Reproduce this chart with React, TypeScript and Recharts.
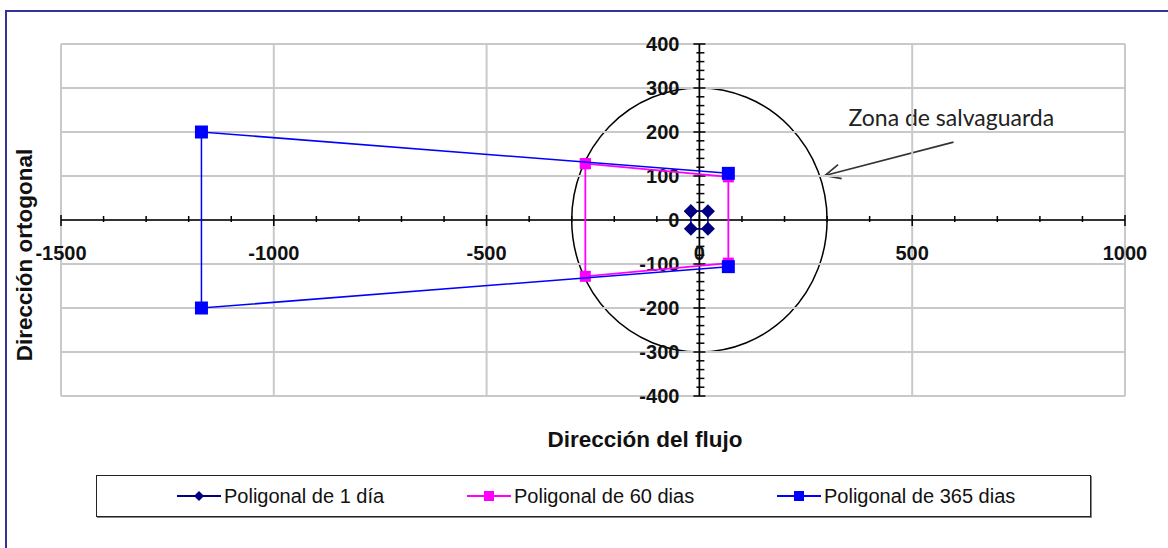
import React from "react";
import {
  ScatterChart,
  Scatter,
  XAxis,
  YAxis,
  ReferenceLine,
  ReferenceDot,
  ReferenceArea,
} from "recharts";

// ---- data ----
const poligonal1Dia = [
  { x: -20, y: 20 },
  { x: 20, y: 20 },
  { x: 20, y: -20 },
  { x: -20, y: -20 },
  { x: -20, y: 20 },
];
const poligonal60Dias = [
  { x: -268, y: 128 },
  { x: 68, y: 98 },
  { x: 68, y: -98 },
  { x: -268, y: -128 },
  { x: -268, y: 128 },
];
const poligonal365Dias = [
  { x: 68, y: 106 },
  { x: -1170, y: 200 },
  { x: -1170, y: -200 },
  { x: 68, y: -106 },
];
const zonaRadio = 300;
const flechaInicio = { x: 597, y: 177 };
const flechaPunta = { x: 295, y: 101 };
const zonaTexto = "Zona de salvaguarda";

const xTickLabels = [-1500, -1000, -500, 0, 500, 1000];
const yTickLabels = [-400, -300, -200, -100, 0, 100, 200, 300, 400];
const xMinorTicks = [
  -1500, -1400, -1300, -1200, -1100, -1000, -900, -800, -700, -600, -500,
  -400, -300, -200, -100, 0, 100, 200, 300, 400, 500, 600, 700, 800, 900, 1000,
];
const yMinorTicks = [
  -400, -380, -360, -340, -320, -300, -280, -260, -240, -220, -200, -180,
  -160, -140, -120, -100, -80, -60, -40, -20, 0, 20, 40, 60, 80, 100, 120,
  140, 160, 180, 200, 220, 240, 260, 280, 300, 320, 340, 360, 380, 400,
];
const seriesNames = [
  "Poligonal de 1 día",
  "Poligonal de 60 dias",
  "Poligonal de 365 dias",
];
const xTitle = "Dirección del flujo";
const yTitle = "Dirección ortogonal";

// ---- styles ----
const NAVY = "#000080";
const MAGENTA = "#FF00FF";
const BLUE = "#0000FF";
const GRID = "#c9c9c9";
const TICK_FONT = "'Liberation Sans', Arial, sans-serif";

const diamond = (color: string, r: number) => (p: any) => {
  const { cx, cy } = p;
  if (cx == null || cy == null) return <g />;
  return (
    <polygon
      points={`${cx},${cy - r} ${cx + r},${cy} ${cx},${cy + r} ${cx - r},${cy}`}
      fill={color}
    />
  );
};
const square = (color: string, s: number) => (p: any) => {
  const { cx, cy } = p;
  if (cx == null || cy == null) return <g />;
  return <rect x={cx - s / 2} y={cy - s / 2} width={s} height={s} fill={color} />;
};

const Ellipse = (p: any) => {
  const { x, y, width, height } = p;
  return (
    <ellipse
      cx={x + width / 2}
      cy={y + height / 2}
      rx={Math.abs(width) / 2}
      ry={Math.abs(height) / 2}
      fill="none"
      stroke="#000"
      strokeWidth={1.5}
    />
  );
};

const Arrow = (p: any) => {
  const { x, y, width, height } = p;
  const sx = x + width;
  const sy = y;
  const tx = x;
  const ty = y + height;
  const ang = Math.atan2(sy - ty, sx - tx);
  const L = 17;
  const a = (25 * Math.PI) / 180;
  const h1x = tx + L * Math.cos(ang + a);
  const h1y = ty + L * Math.sin(ang + a);
  const h2x = tx + L * Math.cos(ang - a);
  const h2y = ty + L * Math.sin(ang - a);
  return (
    <g>
      <line x1={sx} y1={sy} x2={tx} y2={ty} stroke="#333" strokeWidth={1.6} />
      <polyline
        points={`${h1x},${h1y} ${tx},${ty} ${h2x},${h2y}`}
        fill="none"
        stroke="#333"
        strokeWidth={1.6}
      />
      <text
        x={sx - 105}
        y={sy - 16}
        fontFamily="Lato, 'Open Sans', sans-serif"
        fontSize={23}
        fill="#222"
      >
        {zonaTexto}
      </text>
    </g>
  );
};

const xTickMark = (major: boolean) => (p: any) => {
  const { cx, cy } = p;
  const up = major ? 5 : 4;
  const down = major ? 6 : 2;
  return <line x1={cx} x2={cx} y1={cy - up} y2={cy + down} stroke="#000" strokeWidth={1.5} />;
};
const yTickMark = (major: boolean) => (p: any) => {
  const { cx, cy } = p;
  const l = major ? 6 : 3;
  const r = major ? 6 : 5;
  return <line x1={cx - l} x2={cx + r} y1={cy} y2={cy} stroke="#000" strokeWidth={1.5} />;
};
const xTickText = (v: number) => (p: any) => {
  const { cx, cy } = p;
  return (
    <text x={cx} y={cy + 40} textAnchor="middle" fontFamily={TICK_FONT} fontWeight="bold" fontSize={20} fill="#111">
      {v}
    </text>
  );
};
const yTickText = (v: number) => (p: any) => {
  const { cx, cy } = p;
  return (
    <text x={cx - 20} y={cy + 7} textAnchor="end" fontFamily={TICK_FONT} fontWeight="bold" fontSize={20} fill="#111">
      {v}
    </text>
  );
};

const LegendIcon = ({ color, kind }: { color: string; kind: string }) => (
  <svg width={44} height={14} style={{ display: "block" }}>
    <line x1={0} x2={44} y1={7} y2={7} stroke={color} strokeWidth={1.8} />
    {kind === "diamond" ? (
      <polygon points="22,2 27,7 22,12 17,7" fill={color} />
    ) : (
      <rect x={17} y={2} width={10} height={10} fill={color} />
    )}
  </svg>
);

const legendItems = [
  { name: seriesNames[0], color: NAVY, kind: "diamond", left: 177 },
  { name: seriesNames[1], color: MAGENTA, kind: "square", left: 467 },
  { name: seriesNames[2], color: BLUE, kind: "square", left: 777 },
];

export default function App() {
  return (
    <div
      style={{
        position: "absolute",
        left: 0,
        top: 0,
        width: 1168,
        height: 548,
        background: "#fff",
        overflow: "hidden",
      }}
    >
      {/* outer frame */}
      <div
        style={{
          position: "absolute",
          left: 5,
          top: 10,
          width: 1200,
          height: 600,
          borderTop: "2px solid #333399",
          borderLeft: "2px solid #333399",
        }}
      />
      <div style={{ position: "absolute", left: 0, top: 0 }}>
        <ScatterChart
          width={1168}
          height={548}
          margin={{ top: 44, right: 43, bottom: 152, left: 61 }}
        >
          <XAxis
            type="number"
            dataKey="x"
            domain={[-1500, 1000]}
            ticks={xTickLabels}
            allowDataOverflow
            height={0}
            tick={false}
            axisLine={false}
            tickLine={false}
          />
          <YAxis
            type="number"
            dataKey="y"
            domain={[-400, 400]}
            ticks={yTickLabels}
            allowDataOverflow
            width={0}
            tick={false}
            axisLine={false}
            tickLine={false}
          />
          {xTickLabels.map((v) => (
            <ReferenceLine key={"gx" + v} x={v} stroke={GRID} strokeWidth={2} />
          ))}
          {yTickLabels.map((v) => (
            <ReferenceLine key={"gy" + v} y={v} stroke={GRID} strokeWidth={2} />
          ))}
          <ReferenceArea
            x1={-zonaRadio}
            x2={zonaRadio}
            y1={-zonaRadio}
            y2={zonaRadio}
            shape={Ellipse}
          />
          <ReferenceLine y={0} stroke="#000" strokeWidth={1.6} />
          <ReferenceLine x={0} stroke="#000" strokeWidth={1.6} />
          {xMinorTicks.map((v) => (
            <ReferenceDot key={"xt" + v} x={v} y={0} r={0} shape={xTickMark(v % 500 === 0)} />
          ))}
          {yMinorTicks.map((v) => (
            <ReferenceDot key={"yt" + v} x={0} y={v} r={0} shape={yTickMark(v % 100 === 0)} />
          ))}
          {xTickLabels.map((v) => (
            <ReferenceDot key={"xl" + v} x={v} y={0} r={0} shape={xTickText(v)} />
          ))}
          {yTickLabels.map((v) => (
            <ReferenceDot key={"yl" + v} x={0} y={v} r={0} shape={yTickText(v)} />
          ))}
          <ReferenceArea
            x1={flechaPunta.x}
            x2={flechaInicio.x}
            y1={flechaPunta.y}
            y2={flechaInicio.y}
            shape={Arrow}
          />
          <Scatter
            name={seriesNames[0]}
            data={poligonal1Dia}
            line={{ stroke: NAVY, strokeWidth: 1.5 }}
            lineType="joint"
            shape={diamond(NAVY, 7)}
            isAnimationActive={false}
          />
          <Scatter
            name={seriesNames[1]}
            data={poligonal60Dias}
            line={{ stroke: MAGENTA, strokeWidth: 1.8 }}
            lineType="joint"
            shape={square(MAGENTA, 11)}
            isAnimationActive={false}
          />
          <Scatter
            name={seriesNames[2]}
            data={poligonal365Dias}
            line={{ stroke: BLUE, strokeWidth: 1.5 }}
            lineType="joint"
            shape={square(BLUE, 13)}
            isAnimationActive={false}
          />
        </ScatterChart>
      </div>
      {/* axis titles */}
      <svg
        width={1168}
        height={548}
        style={{ position: "absolute", left: 0, top: 0, pointerEvents: "none" }}
      >
        <text
          x={645}
          y={447}
          textAnchor="middle"
          fontFamily={TICK_FONT}
          fontWeight="bold"
          fontSize={22.5}
          fill="#111"
        >
          {xTitle}
        </text>
        <text
          transform="translate(32,255) rotate(-90)"
          textAnchor="middle"
          fontFamily={TICK_FONT}
          fontWeight="bold"
          fontSize={22.5}
          fill="#111"
        >
          {yTitle}
        </text>
      </svg>
      {/* legend */}
      <div
        style={{
          position: "absolute",
          left: 96,
          top: 475,
          width: 993,
          height: 40,
          border: "1.5px solid #222",
          boxShadow: "1px 1px 0 #888",
          background: "#fff",
        }}
      />
      {legendItems.map((it) => (
        <div
          key={it.name}
          style={{
            position: "absolute",
            left: it.left,
            top: 483,
            height: 26,
            display: "flex",
            alignItems: "center",
            fontFamily: TICK_FONT,
            fontSize: 20,
            color: "#111",
            whiteSpace: "nowrap",
          }}
        >
          <LegendIcon color={it.color} kind={it.kind} />
          <span style={{ marginLeft: 3 }}>{it.name}</span>
        </div>
      ))}
    </div>
  );
}
